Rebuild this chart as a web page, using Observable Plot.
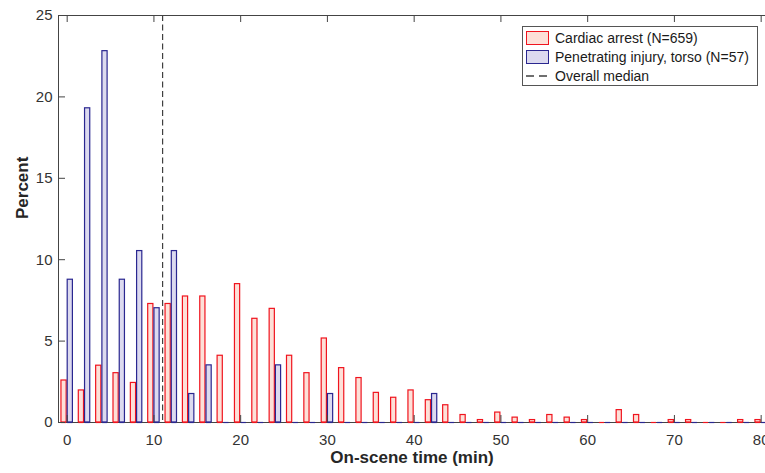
<!DOCTYPE html>
<html><head><meta charset="utf-8">
<script src="https://cdn.jsdelivr.net/npm/d3@7"></script>
<script src="https://cdn.jsdelivr.net/npm/@observablehq/plot@0.6"></script>
<style>
body{margin:0;background:#fff;font-family:"Liberation Sans",Arial,sans-serif;}
#wrap{position:relative;width:765px;height:473px;overflow:hidden;}
#legend{position:absolute;left:522px;top:26px;width:236px;height:60px;border:1px solid #555;background:#fff;font-size:14px;color:#1a1a1a;box-sizing:border-box;}
.row{position:absolute;left:3px;height:18px;display:flex;align-items:center;white-space:nowrap;}
.sw{width:23px;height:14px;margin-right:6px;box-sizing:border-box;}
</style></head><body><div id="wrap"></div>
<script>
const bins = [0,2,4,6,8,10,12,14,16,18,20,22,24,26,28,30,32,34,36,38,40,42,44,46,48,50,52,54,56,58,60,62,64,66,68,70,72,74,76,78,80];
const cardiac = [2.58,1.97,3.49,3.03,2.43,7.28,7.28,7.74,7.74,4.10,8.50,6.37,6.98,4.10,3.03,5.16,3.34,2.73,1.82,1.52,1.97,1.37,1.06,0.46,0.15,0.61,0.30,0.15,0.46,0.30,0.15,0,0.76,0.46,0,0.15,0.15,0,0,0.15,0.15];
const penetrating = [8.77,19.30,22.81,8.77,10.53,7.02,10.53,1.75,3.51,0,0,0,3.51,0,0,1.75,0,0,0,0,0,1.75,0,0,0,0,0,0,0,0,0,0,0,0,0,0,0,0,0,0,0];
const seriesNames = ["Cardiac arrest (N=659)", "Penetrating injury, torso (N=57)", "Overall median"];
const overallMedian = 11;
const xTicks = [0,10,20,30,40,50,60,70,80];
const yTicks = [0,5,10,15,20,25];

const redStroke = "#f0141e", redFill = "#fde0d8";
const blueStroke = "#2a2790", blueFill = "#dcdaef";
const axisColor = "#444";

const ca = bins.map((b,i)=>({bin:b, value:cardiac[i]}));
const pi = bins.map((b,i)=>({bin:b, value:penetrating[i]}));

const chart = Plot.plot({
  width: 765, height: 473,
  marginLeft: 58, marginRight: 0, marginTop: 15, marginBottom: 51,
  x: {domain: [-1, 80.5]},
  y: {domain: [0, 25]},
  style: {fontFamily: "Liberation Sans, Arial, sans-serif", fontSize: "15px", color: "#333", background: "white"},
  marks: [
    Plot.rectY(ca, {x1: d => d.bin - 0.66, x2: d => d.bin - 0.06, y1: 0, y2: "value", fill: redFill, stroke: redStroke, strokeWidth: 1.2}),
    Plot.rectY(pi, {x1: d => d.bin + 0.06, x2: d => d.bin + 0.66, y1: 0, y2: "value", fill: blueFill, stroke: blueStroke, strokeWidth: 1.2}),
    Plot.ruleX([overallMedian], {stroke: "#404040", strokeWidth: 1.2, strokeDasharray: "6,3.5"}),
    Plot.ruleX([-1], {stroke: axisColor}),
    Plot.ruleY([25], {stroke: axisColor}),
    Plot.ruleY([0], {stroke: axisColor}),
    Plot.ruleY(ca, {y: 0, x1: d => d.bin - 0.66, x2: d => d.bin - 0.06, stroke: redStroke, strokeWidth: 1.2}),
    Plot.ruleY(pi, {y: 0, x1: d => d.bin + 0.06, x2: d => d.bin + 0.66, stroke: blueStroke, strokeWidth: 1.2}),
    Plot.ruleX(xTicks, {x: d => d, insetTop: 400, stroke: axisColor}),
    Plot.ruleX(xTicks, {x: d => d, insetBottom: 400, stroke: axisColor}),
    Plot.ruleY(yTicks, {y: d => d, insetRight: 700, stroke: axisColor}),
    Plot.axisX({ticks: xTicks, tickSize: 0, tickPadding: 12, label: null, fontSize: 15}),
    Plot.axisY({ticks: yTicks, tickSize: 0, tickPadding: 6, label: null, fontSize: 15}),
    Plot.text(["Percent"], {frameAnchor: "left", dx: -36, rotate: -90, fontWeight: "bold", fontSize: 17, fill: "#262626"}),
    Plot.text(["On-scene time (min)"], {frameAnchor: "bottom", dy: 40, fontWeight: "bold", fontSize: 17, fill: "#262626"})
  ]
});
const wrap = document.getElementById("wrap");
wrap.appendChild(chart);

const legend = document.createElement("div");
legend.id = "legend";
legend.innerHTML = `
 <div class="row" style="top:2px"><div class="sw" style="background:${redFill};border:1.5px solid ${redStroke}"></div>${seriesNames[0]}</div>
 <div class="row" style="top:21px"><div class="sw" style="background:${blueFill};border:1.5px solid ${blueStroke}"></div>${seriesNames[1]}</div>
 <div class="row" style="top:40px"><svg width="23" height="14" style="margin-right:6px"><line x1="0" x2="23" y1="7" y2="7" stroke="#404040" stroke-width="1.3" stroke-dasharray="8,5"/></svg>${seriesNames[2]}</div>`;
wrap.appendChild(legend);
</script>
</body></html>
